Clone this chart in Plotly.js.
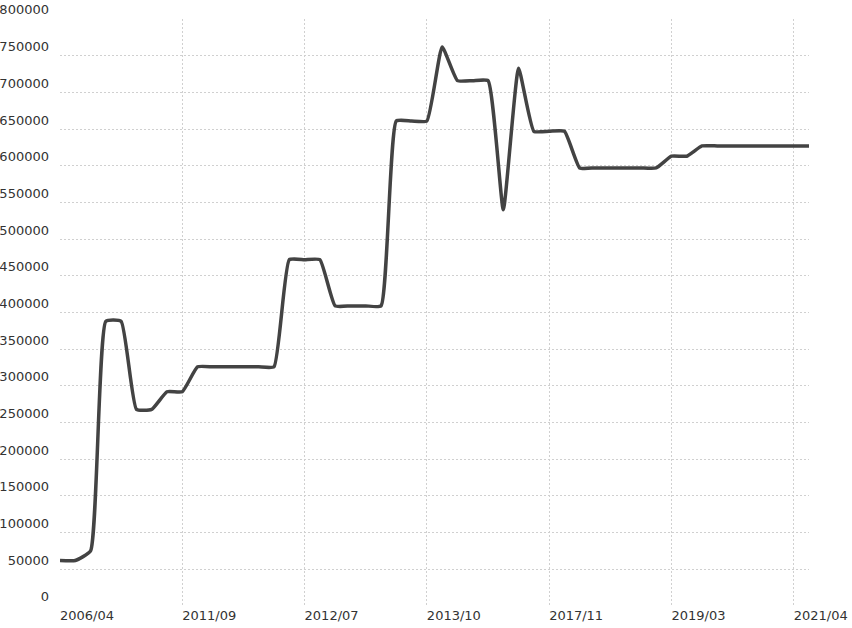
<!DOCTYPE html>
<html>
<head>
<meta charset="utf-8">
<script src="https://cdn.plot.ly/plotly-3.0.1.min.js"></script>
<style>html,body{margin:0;padding:0;background:#fff;}#chart{width:852px;height:628px;}</style>
</head>
<body>
<div id="chart"></div>
<script>
const values = [
  62000, 62000, 75000, 388000, 388000, 268000, 268000, 292000, 292000, 326000,
  326000, 326000, 326000, 326000, 326000, 472000, 472000, 472000, 409000, 409000,
  409000, 409000, 661000, 661000, 661000, 762000, 716000, 716000, 716000, 540000,
  733000, 647000, 647000, 647000, 597000, 597000, 597000, 597000, 597000, 597000,
  613000, 613000, 627000, 627000, 627000, 627000, 627000, 627000, 627000, 627000
];
// Labelled categories (index into the series) and their labels
const tickIndex = [0, 8, 16, 24, 32, 40, 48];
const tickLabels = ['2006/04', '2011/09', '2012/07', '2013/10', '2017/11', '2019/03', '2021/04'];
const yTicks = [0,50000,100000,150000,200000,250000,300000,350000,400000,450000,500000,550000,600000,650000,700000,750000,800000];

const xs = values.map((v, i) => i);

const font = {family: 'DejaVu Sans, Verdana, sans-serif', size: 13, color: '#333'};

Plotly.newPlot('chart', [{
  type: 'scatter',
  mode: 'lines',
  x: xs,
  y: values,
  line: {color: '#434343', width: 3.5, shape: 'spline', smoothing: 0.42},
  hoverinfo: 'skip'
}], {
  width: 852, height: 628,
  margin: {l: 60, r: 43, t: 19, b: 22},
  paper_bgcolor: '#fff', plot_bgcolor: '#fff',
  showlegend: false,
  font: font,
  xaxis: {
    range: [0, values.length - 1],
    tickmode: 'array', tickvals: tickIndex, ticktext: tickLabels,
    showgrid: true, gridcolor: '#d0d0d0', griddash: '2px,2px', gridwidth: 1,
    zeroline: false, showline: false, ticks: '',
    ticklabelposition: 'outside right',
    tickfont: font,
    fixedrange: true
  },
  yaxis: {
    range: [0, 800000],
    tickmode: 'array', tickvals: yTicks, ticktext: yTicks.map(String),
    showgrid: true, gridcolor: '#d0d0d0', griddash: '2px,2px', gridwidth: 1,
    zeroline: false, showline: false, ticks: '',
    ticklabelposition: 'outside top',
    ticklabelstandoff: 10,
    tickfont: font,
    fixedrange: true
  }
}, {displayModeBar: false, staticPlot: true});
</script>
</body>
</html>
